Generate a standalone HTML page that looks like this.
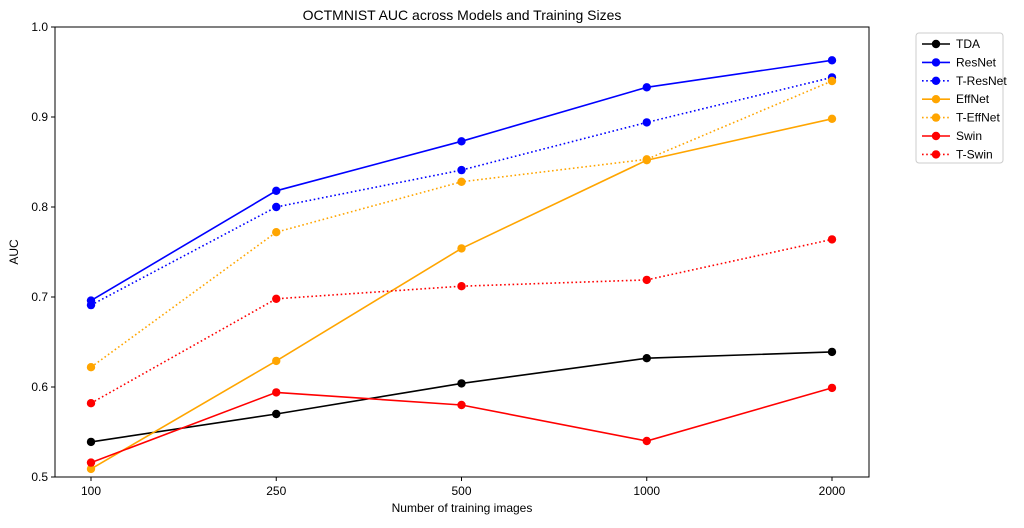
<!DOCTYPE html>
<html><head><meta charset="utf-8"><style>
body{margin:0;background:#fff;}
svg text{font-family:"Liberation Sans","DejaVu Sans",sans-serif;fill:#000;}
</style></head><body>
<svg id="chart" width="1024" height="523" xmlns="http://www.w3.org/2000/svg">
<text x="462" y="20" font-size="14" text-anchor="middle">OCTMNIST AUC across Models and Training Sizes</text>
<rect x="55" y="27" width="814" height="450" fill="none" stroke="#000" stroke-width="1"/>
<g id="axes"></g>
<g id="series"></g>
<text x="462" y="512" font-size="12" text-anchor="middle">Number of training images</text>
<text x="18" y="252" font-size="12" text-anchor="middle" transform="rotate(-90 18 252)">AUC</text>
<g id="legend"></g>
</svg>
<script>
const categories=["100","250","500","1000","2000"];
const yTicks=[0.5,0.6,0.7,0.8,0.9,1.0];
const seriesNames=["TDA","ResNet","T-ResNet","EffNet","T-EffNet","Swin","T-Swin"];
const seriesColors=["#000000","#0000ff","#0000ff","#ffa500","#ffa500","#ff0000","#ff0000"];
const seriesDotted=[false,false,true,false,true,false,true];
const tda=[0.539,0.570,0.604,0.632,0.639];
const resnet=[0.696,0.818,0.873,0.933,0.963];
const tResnet=[0.691,0.800,0.841,0.894,0.944];
const effnet=[0.509,0.629,0.754,0.852,0.898];
const tEffnet=[0.622,0.772,0.828,0.853,0.940];
const swin=[0.516,0.594,0.580,0.540,0.599];
const tSwin=[0.582,0.698,0.712,0.719,0.764];
const allSeries=[tda,resnet,tResnet,effnet,tEffnet,swin,tSwin];
const NS="http://www.w3.org/2000/svg";
const xs=i=>91+i*185.25;
const ys=v=>477-(v-0.5)*900;
function mk(tag,attrs,parent){const e=document.createElementNS(NS,tag);for(const k in attrs)e.setAttribute(k,attrs[k]);parent.appendChild(e);return e;}
const axes=document.getElementById('axes');
categories.forEach((c,i)=>{
  const t=mk('line',{x1:xs(i),x2:xs(i),y1:477,y2:481,stroke:'#000'},axes);
  
  
  const l=mk('text',{x:xs(i),y:495,'font-size':12,'text-anchor':'middle'},axes);
  l.textContent=c;
  
  
});
yTicks.forEach(v=>{
  const t=mk('line',{x1:51,x2:55,y1:ys(v),y2:ys(v),stroke:'#000'},axes);
  
  
  const l=mk('text',{x:48,y:ys(v)+4,'font-size':12,'text-anchor':'end'},axes);
  l.textContent=v.toFixed(1);
  
  
});
const sg=document.getElementById('series');
allSeries.forEach((vals,s)=>{
  const g=mk('g',{},sg);
  
  
  const pts=vals.map((v,i)=>xs(i)+','+ys(v)).join(' ');
  const pl=mk('polyline',{points:pts,fill:'none',stroke:seriesColors[s],'stroke-width':1.6},g);
  if(seriesDotted[s])pl.setAttribute('stroke-dasharray','1.6 2.6');
  
  
  vals.forEach((v,i)=>{
    const c=mk('circle',{cx:xs(i),cy:ys(v),r:4.2,fill:seriesColors[s]},g);
    
    
  });
});
const lg=document.getElementById('legend');


mk('rect',{x:916,y:33,width:87,height:130,rx:3,fill:'#fff',stroke:'#ccc'},lg);
seriesNames.forEach((n,s)=>{
  const y=44+s*18.4;
  const e=mk('g',{},lg);
  
  
  const ln=mk('line',{x1:922,x2:950,y1:y,y2:y,stroke:seriesColors[s],'stroke-width':1.6},e);
  if(seriesDotted[s])ln.setAttribute('stroke-dasharray','1.6 2.6');
  mk('circle',{cx:936,cy:y,r:4.2,fill:seriesColors[s]},e);
  const t=mk('text',{x:956,y:y+4,'font-size':12},e);
  t.textContent=n;
});
</script>
</body></html>
